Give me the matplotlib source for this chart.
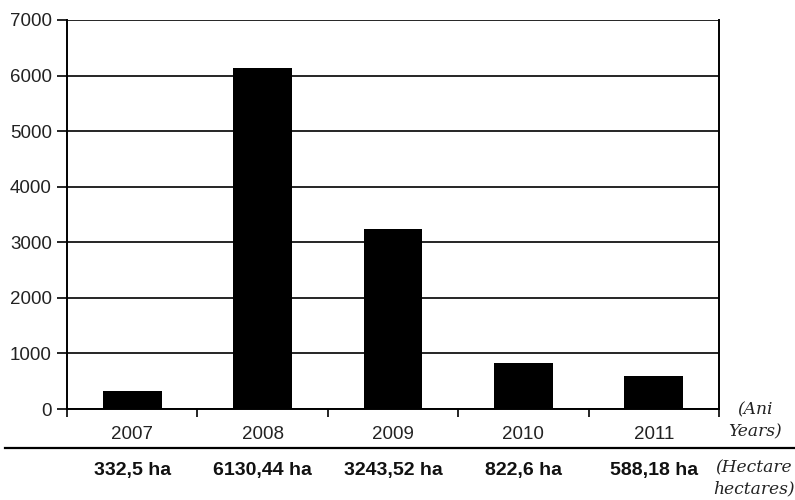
import matplotlib
matplotlib.use("Agg")
import matplotlib.pyplot as plt
from matplotlib.lines import Line2D

years = ["2007", "2008", "2009", "2010", "2011"]
values = [332.5, 6130.44, 3243.52, 822.6, 588.18]
area_labels = ["332,5 ha", "6130,44 ha", "3243,52 ha", "822,6 ha", "588,18 ha"]
yticks = [0, 1000, 2000, 3000, 4000, 5000, 6000, 7000]

fig = plt.figure(figsize=(7.95, 5.0), dpi=100)
ax = fig.add_axes([67/795, 1-409/500, (719-67)/795, (409-20)/500])

x = list(range(len(years)))
ax.bar(x, values, width=0.45, color="black", zorder=3)

ax.set_xlim(-0.5, len(years)-0.5)
ax.set_ylim(0, 7000)
ax.set_yticks(yticks)
ax.yaxis.grid(True, color="black", linewidth=1.2, zorder=1)
ax.set_axisbelow(True)

sans = "Liberation Sans"
ax.set_yticklabels([str(v) for v in yticks], fontsize=13.5, family=sans, color="#222222")
ax.tick_params(axis="y", direction="out", length=7, width=1.2, pad=4, colors="black")
for lbl in ax.get_yticklabels():
    lbl.set_color("#222222")

ax.set_xticks(x)
ax.set_xticklabels(years, fontsize=13.5, family=sans, color="#222222")
ax.tick_params(axis="x", which="major", length=0, pad=12)
ax.set_xticks([i - 0.5 for i in range(len(years)+1)], minor=True)
ax.tick_params(axis="x", which="minor", direction="out", length=6, width=1.2, colors="black")

for s in ["left", "bottom", "right"]:
    ax.spines[s].set_linewidth(1.4)
    ax.spines[s].set_color("black")
ax.spines["top"].set_visible(False)

# bold area labels under each year
for xi, lab in zip(x, area_labels):
    ax.text(xi, -0.157, lab, transform=ax.get_xaxis_transform(), ha="center", va="center",
            fontsize=14, fontweight="bold", family=sans, color="#111111")

# separator line
fig.add_artist(Line2D([5/795, 1.0], [1-448/500, 1-448/500], color="black", linewidth=1.6,
                      transform=fig.transFigure))

serif = "DejaVu Serif"
fs = 12.3
fig.text(755/795, 1-410/500, "(Ani", ha="center", va="center", fontsize=fs, style="italic", family=serif, color="#222222")
fig.text(755/795, 1-432/500, "Years)", ha="center", va="center", fontsize=fs, style="italic", family=serif, color="#222222")
fig.text(754/795, 1-468/500, "(Hectare", ha="center", va="center", fontsize=fs, style="italic", family=serif, color="#222222")
fig.text(754/795, 1-489/500, "hectares)", ha="center", va="center", fontsize=fs, style="italic", family=serif, color="#222222")

fig.savefig("out.png", dpi=100)
